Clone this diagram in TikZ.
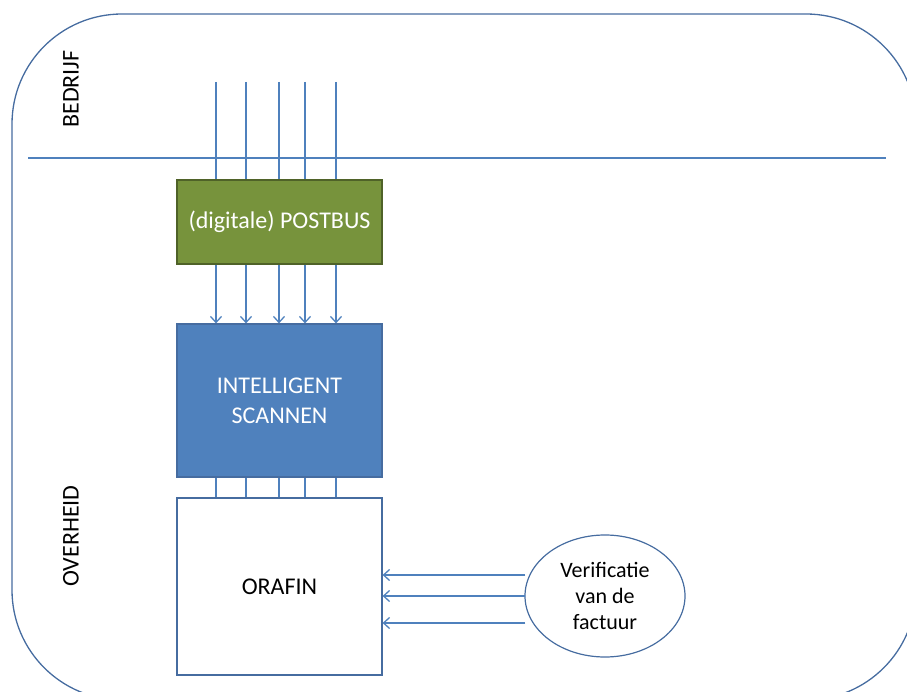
\documentclass[tikz,border=0pt]{standalone}
\usepackage{fontspec}
\setmainfont{Carlito}
\usetikzlibrary{arrows.meta,shapes.geometric}
\definecolor{lijnblauw}{RGB}{79,129,189}
\definecolor{randblauw}{RGB}{70,108,160}
\definecolor{olijf}{RGB}{119,147,60}
\definecolor{olijfrand}{RGB}{79,98,40}
\definecolor{scanblauw}{RGB}{79,129,189}

\begin{document}
\begin{tikzpicture}[x=1pt, y=-1pt,
    blok/.style={draw=randblauw, line width=1.2pt, minimum width=205pt, inner sep=0pt,
                 font=\fontsize{24}{30}\selectfont, align=center},
    lijn/.style={lijnblauw, line width=1.3pt},
    pijl/.style={lijn, -{Straight Barb[length=6pt,width=11pt]}},
    zone/.style={rotate=90, font=\fontsize{24}{28}\selectfont}]
    \useasboundingbox (0,0) rectangle (907,692);
    \clip (0,0) rectangle (907,692);

    % Outer frame
    \draw[randblauw, line width=1.3pt, rounded corners=110pt] (12,14) rectangle (916,700);

    % Border between company and government
    \coordinate (grensL) at (28,158);
    \coordinate (grensR) at (886,158);
    \draw[lijn] (grensL) -- (grensR);

    % Zone labels
    \node[zone] (bedrijf) at (71,89) {BEDRIJF};
    \node[zone] (overheid) at (71,536) {OVERHEID};

    % Blocks
    \node[blok, fill=olijf, draw=olijfrand, text=white, minimum height=84pt] (post) at (279.5,222) {(digitale) POSTBUS};
    \node[blok, fill=scanblauw, text=white, minimum height=153pt] (scan) at (279.5,400.5) {INTELLIGENT\\SCANNEN};
    \node[blok, fill=white, minimum height=177pt] (orafin) at (279.5,586.5) {ORAFIN};

    % Verification
    \node[draw=randblauw, line width=1.2pt, ellipse, minimum width=160pt, minimum height=122pt,
          inner sep=0pt, align=center, font=\fontsize{22}{26}\selectfont] (verif) at (605,596)
          {Verificatie\\van de\\factuur};

    % Incoming streams
    \foreach \x [count=\i] in {216,246,279,305,336} {
        \coordinate (in\i) at (\x,82);
        \draw[lijn] (in\i) -- (in\i |- post.north);
        \draw[pijl] (in\i |- post.south) -- (in\i |- scan.north);
        \draw[lijn] (in\i |- scan.south) -- (in\i |- orafin.north);
    }

    % Verification to ORAFIN
    \foreach \dy in {21,0,-27} {
        \draw[pijl] ([yshift=\dy pt, xshift=1pt]verif.west) -- ([yshift=\dy pt]verif.west -| orafin.east);
    }
\end{tikzpicture}
\end{document}
